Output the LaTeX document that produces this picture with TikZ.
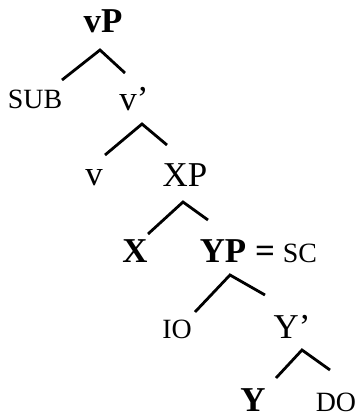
\documentclass[tikz,border=0pt]{standalone}
\usepackage{fontspec}
\setmainfont{Liberation Serif}
\begin{document}
\begin{tikzpicture}[x=1bp,y=-1bp,
  big/.style={anchor=base,inner sep=0pt,font=\fontsize{35}{35}\selectfont\bfseries},
  bigr/.style={anchor=base,inner sep=0pt,font=\fontsize{35}{35}\selectfont},
  small/.style={anchor=base,inner sep=0pt,font=\fontsize{28}{28}\selectfont},
  branch/.style={line width=2.8bp}]
\useasboundingbox (0,0) rectangle (357,417);
% labels
\node[big] (vP) at (103,32) {vP};
\node[small] (sub) at (35,108) {SUB};
\node[bigr] (vbar) at (134,110) {v’};
\node[bigr] (v) at (94,185) {v};
\node[bigr] (XP) at (185,186) {XP};
\node[big] (X) at (135,262) {X};
\node[big] (YP) at (223,262) {YP};
\node[big] (eq) at (265,262) {=};
\node[small] (sc) at (300,262) {SC};
\node[small] (io) at (177,338) {IO};
\node[bigr] (Ybar) at (292,338) {Y’};
\node[big] (Y) at (253,411) {Y};
\node[small] (do) at (336,411) {DO};
% branch points
\coordinate (a1) at (100,50);  \coordinate (l1) at (62,80);   \coordinate (r1) at (125,73);
\coordinate (a2) at (142,124); \coordinate (l2) at (105,155);  \coordinate (r2) at (167,145);
\coordinate (a3) at (183,202); \coordinate (l3) at (148,234);  \coordinate (r3) at (208,220);
\coordinate (a4) at (230,275); \coordinate (l4) at (195,312);  \coordinate (r4) at (265,295);
\coordinate (a5) at (302,350); \coordinate (l5) at (276,378);  \coordinate (r5) at (330,370);
\draw[branch] (l1) -- (a1) -- (r1);
\draw[branch] (l2) -- (a2) -- (r2);
\draw[branch] (l3) -- (a3) -- (r3);
\draw[branch] (l4) -- (a4) -- (r4);
\draw[branch] (l5) -- (a5) -- (r5);
\end{tikzpicture}
\end{document}
